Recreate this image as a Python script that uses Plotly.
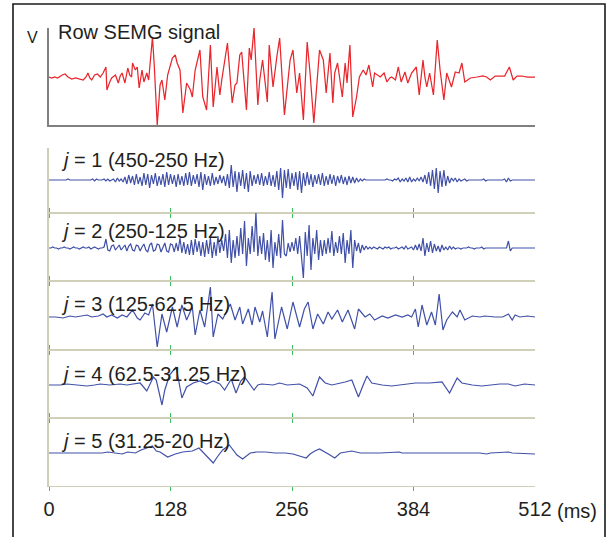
import plotly.graph_objects as go

# ---------------- data ----------------
# Raw SEMG signal: time (ms) and amplitude (arbitrary units, baseline 0)
raw_t = [0, 3, 6, 9, 14, 17, 20, 24, 28, 33, 36, 39, 41, 43, 45, 48, 51, 54, 57, 60,
         61, 64, 66, 70, 73, 75, 77, 80, 83, 85, 87, 88, 91, 93, 95, 98, 100, 103, 105, 109,
         111, 114, 117, 119, 122, 125, 130, 133, 135, 138, 141, 145, 149, 151, 154, 159, 162, 166, 170, 173,
         177, 180, 182, 188, 193, 196, 198, 201, 203, 208, 211, 213, 216, 220, 222, 225, 230, 232, 236, 240,
         243, 248, 252, 254, 257, 261, 264, 268, 272, 275, 279, 283, 285, 289, 292, 296, 299, 301, 304, 309,
         312, 314, 317, 320, 324, 327, 331, 334, 337, 341, 343, 349, 353, 356, 359, 361, 365, 368, 371, 375,
         378, 382, 387, 390, 394, 396, 398, 401, 405, 409, 412, 416, 419, 424, 428, 432, 435, 438, 444, 451,
         457, 461, 465, 470, 475, 480, 485, 489, 493, 498, 504, 512]
raw_v = [0, -1, 0, -1, 2, 3, 0, -2, -1, -2, -3, 0, 4, -1, -3, 2, 3, 0, 4, 10,
         -13, -5, -1, 2, -6, 1, 4, -6, 9, 2, 0, 14, 7, 10, -11, 7, -5, 4, -3, 40,
         10, -48, -8, -3, -23, 2, 19, 22, 14, 7, -36, -6, -13, -20, 7, 27, -20, -33, 32, -30,
         10, -18, -3, 34, -26, -8, -6, 22, 25, -33, 29, 17, 49, -28, -3, 17, -25, 32, -10, 20,
         39, -38, 0, 17, 27, -16, 4, -43, 35, 4, -46, 7, 27, 17, -16, 24, -26, 4, 14, -20,
         14, -6, 32, -40, -20, 0, 7, 2, 12, -10, 4, 0, 4, -5, -1, 0, -3, 10, -5, 5,
         -6, 4, 10, -18, 17, 0, -10, 4, -18, 37, 7, -23, 4, -10, 5, 4, 14, -5, -1, 0,
         1, 0, -3, 1, 1, 1, 10, -3, 1, 1, 0, 0]

# Wavelet details, sampled every 2 ms (j = 1, j = 2)
SAMPLE_MS = 2
j1_v = [0, 0, 0, 0, 0, 0, 0, 0, 0, 0,
        1, 0, 0, 0, 0, 0, 0, 0, 0, 0,
        0, 0, 0, 1, -1, 1, 0, 0, 0, 1,
        -1, 1, -1, 0, 1, -2, 2, -1, 1, -2,
        3, -4, 5, -3, 4, -5, 6, -4, 3, -6,
        7, -5, 6, -8, 5, -4, 7, -6, 4, -5,
        6, -7, 8, -5, 6, -4, 5, -7, 6, -5,
        4, -6, 7, -5, 8, -6, 5, -4, 6, -7,
        8, -10, 6, -5, 4, -6, 7, -5, 3, -4,
        5, -3, 4, -6, 6, -8, 15, -7, 9, -12,
        8, -6, 10, -9, 7, -12, 9, -6, 5, -4,
        6, -5, 7, -6, 4, -5, 8, -6, 5, -7,
        9, -10, 12, -18, 10, -8, 11, -9, 7, -6,
        8, -10, 9, -13, 7, -6, 8, -5, 6, -7,
        5, -4, 6, -5, 7, -6, 4, -5, 6, -4,
        5, -6, 4, -3, 5, -4, 3, -5, 4, -3,
        3, -3, 2, -2, 1, -1, 1, 0, 0, 0,
        0, 0, 0, 0, 0, 0, 0, 0, 1, 0,
        0, -1, 1, 0, 2, -2, 1, -1, 2, -2,
        3, -2, 1, -1, 2, -1, 3, -2, 5, -4,
        8, -6, 10, -9, 12, -13, 9, -7, 10, -6,
        4, -3, 2, -1, 2, -2, 1, -1, 0, 1,
        -1, 0, 0, 0, 0, 0, 0, 0, 0, 1,
        -1, 0, 0, 0, 0, 0, 0, 0, 0, 0,
        1, -2, 2, -1, 0, 0, 0, 0, 0, 0,
        0, 0, 0, 0, 0, 0, 0]
j2_v = [0, 0, 1, 0, 0, -1, 0, 0, 1, 0,
        0, -1, 0, 1, 0, 0, -1, 0, 1, 0,
        0, 1, -1, 0, 1, 0, -1, 0, 0, 1,
        9, -2, -3, 2, 3, -2, 1, 3, -2, 0,
        3, -3, 2, 4, -2, -3, 3, 2, -3, 1,
        4, -2, -4, 3, 5, -3, -2, 4, 3, -4,
        0, 5, -3, -4, 4, 3, -4, 5, -3, 10,
        -5, 6, -6, 4, -7, 8, -7, 9, -4, 7,
        -8, 6, -9, 8, -6, 10, -10, 6, -8, 12,
        -5, 8, -3, 14, -10, 18, -15, 8, -10, 12,
        -8, 20, -6, 27, -18, 10, -6, 22, -4, 36,
        -8, 12, -6, 15, -12, 8, -14, 18, -20, 6,
        -8, 14, -10, 28, -6, -8, 5, -4, 6, -3,
        10, -6, 12, -10, -30, 16, -8, 23, -22, 10,
        -6, 18, -12, 8, -8, 8, -6, 10, -5, 17,
        -8, 6, -5, 12, -6, 15, -15, 8, -6, 18,
        -20, 8, -3, 5, -5, 3, -2, 2, -1, 1,
        -1, 1, 0, -1, 1, 0, -1, 1, 0, 1,
        -1, 0, 0, 1, -1, 0, 1, -1, 2, -1,
        0, 1, -2, 3, -2, 4, -3, 10, -8, 5,
        -4, 7, -5, 4, -3, 2, -4, 3, -2, 1,
        -2, 2, -1, 1, -1, 0, 0, -1, 0, 0,
        0, 1, 0, 0, -1, 0, 0, 0, 1, -1,
        0, 0, 0, 0, 0, 0, 0, 0, 0, 0,
        0, 0, 7, -3, 0, 0, 0, 0, 0, 0,
        0, 0, 0, 0, 0, 0, 0]

# j = 3 detail (time ms, amplitude)
j3_t = [0, 7, 15, 22, 28, 35, 40, 45, 52, 57, 61, 66, 72, 77, 82, 88, 93, 96, 101, 105,
        109, 114, 119, 124, 130, 135, 140, 145, 151, 154, 159, 164, 170, 173, 178, 183, 191, 196, 201, 204,
        210, 214, 217, 222, 225, 230, 235, 238, 245, 251, 257, 264, 269, 273, 278, 283, 289, 294, 298, 304,
        309, 315, 322, 326, 333, 338, 343, 351, 357, 365, 372, 378, 382, 386, 389, 393, 398, 403, 407, 411,
        415, 419, 425, 430, 433, 438, 446, 454, 459, 470, 478, 484, 488, 491, 496, 504, 512]
j3_v = [0, 0, -1, 1, 0, 1, 2, 0, 1, 3, 0, 2, -1, 2, 0, 7, -1, -3, 4, 2,
        13, -30, 3, -15, 10, -10, 12, -3, 10, -18, 7, -10, 30, -20, 3, -2, 13, -3, 10, -7,
        8, -8, 10, -5, 6, -20, 25, -22, 10, -12, 15, -10, 8, 15, -12, 3, -7, 5, -2, 7,
        -5, 7, -12, 8, 0, 3, -3, 1, -1, 2, 0, 2, 0, 8, -10, 12, -8, 5, -8, 23,
        -13, -3, 5, 0, 7, -3, 1, 0, 1, 0, 0, 3, -3, 2, 0, 1, 0]

# j = 4 detail
j4_t = [0, 12, 19, 27, 40, 48, 54, 64, 75, 82, 91, 96, 103, 106, 110, 113, 119, 122, 127, 134,
        140, 145, 152, 159, 166, 173, 180, 185, 192, 197, 202, 206, 216, 220, 224, 236, 243, 251, 259, 264,
        272, 278, 285, 291, 298, 304, 312, 319, 326, 331, 335, 340, 351, 361, 372, 386, 401, 414, 422, 430,
        435, 446, 456, 467, 475, 484, 491, 501, 512]
j4_v = [0, 0, 1, 0, -1, 0, 1, 0, 1, 0, 1, 2, -6, 0, 8, 5, -20, -5, 10, 18,
        -13, -2, 2, 4, 1, 4, 1, -5, 6, -8, 4, 8, -5, 0, 1, 0, 2, 0, 1, 1,
        -3, -11, 8, 2, 0, 1, 3, 5, -12, 0, 9, 2, 0, -1, 0, 2, 2, 3, -8, 7,
        2, 0, -1, 0, 1, 1, -1, 1, 0]

# j = 5 detail
j5_t = [0, 22, 43, 56, 62, 70, 77, 83, 91, 97, 109, 113, 117, 125, 133, 141, 151, 158, 165, 173,
        178, 183, 190, 194, 198, 204, 212, 219, 228, 238, 249, 257, 265, 271, 275, 280, 285, 291, 296, 301,
        307, 313, 319, 328, 338, 349, 369, 372, 391, 412, 433, 454, 461, 465, 484, 488, 512]
j5_v = [0, 0, 0, 0, 1, 0, -1, 1, 0, 3, 7, 2, 1, -4, -1, 1, 2, 5, -2, -10,
        -3, 3, 8, 3, -2, -6, 0, 1, 1, 0, 0, -1, -3, -5, -1, 2, 4, 1, -2, -5,
        0, 1, 2, 0, 0, 0, 1, 0, 0, 0, 0, 0, -1, 0, 1, 0, -1]

labels = ["<i>j</i> = 1 (450-250 Hz)", "<i>j</i> = 2 (250-125 Hz)", "<i>j</i> = 3 (125-62.5 Hz)",
          "<i>j</i> = 4 (62.5-31.25 Hz)", "<i>j</i> = 5 (31.25-20 Hz)"]
title_text = "Row SEMG signal"
y_unit = "V"
tick_vals = [0, 128, 256, 384, 512]
tick_text = ["0", "128", "256", "384", "512"]
x_unit = "(ms)"

j1_t = [SAMPLE_MS * i for i in range(len(j1_v))]
j2_t = [SAMPLE_MS * i for i in range(len(j2_v))]
details = [(j1_t, j1_v), (j2_t, j2_v), (j3_t, j3_v), (j4_t, j4_v), (j5_t, j5_v)]

# ---------------- layout / style ----------------
W, H = 611, 537
L, R, T, B = 49, 535, 28, 486          # plot area in pixels
FONT = "Liberation Sans, Arial, Helvetica, sans-serif"
TXT = "#231f20"
RED = "#e8262c"
BLUE = "#4050a8"
GREY = "#808080"
BEIGE = "#d0d0b8"
GREEN = "#3cc060"


def pxx(p):
    return (p - L) / (R - L)


def pxy(p):
    return (B - p) / (B - T)


top_box = (28, 125, 77)                 # top, bottom, baseline (px)
panels = [(148, 213, 180), (213, 281, 248), (281, 350, 317), (350, 418, 385), (418, 486, 453)]
label_y = [160, 231, 304, 374, 441]

fig = go.Figure()
fig.add_trace(go.Scatter(x=raw_t, y=raw_v, mode="lines", line=dict(color=RED, width=1.25),
                         xaxis="x", yaxis="y", hoverinfo="skip"))
for k, (t, v) in enumerate(details):
    fig.add_trace(go.Scatter(x=t, y=v, mode="lines", line=dict(color=BLUE, width=1.2),
                             xaxis=f"x{k + 2}", yaxis=f"y{k + 2}", hoverinfo="skip"))
# carrier for the tick-label axis
fig.add_trace(go.Scatter(x=[0, 512], y=[None, None], mode="lines", xaxis="x7", yaxis="y6",
                         hoverinfo="skip"))

lay = dict(
    width=W, height=H, margin=dict(l=L, r=W - R, t=T, b=H - B, pad=0),
    paper_bgcolor="white", plot_bgcolor="rgba(0,0,0,0)", showlegend=False,
    font=dict(family=FONT, color=TXT, size=20),
)
tt, tb, tbase = top_box
lay["xaxis"] = dict(domain=[0, 1], range=[0, 512], anchor="y", showline=True, linecolor=GREY,
                    linewidth=1.5, ticks="", showticklabels=False, showgrid=False, zeroline=False)
lay["yaxis"] = dict(domain=[pxy(tb), pxy(tt)], range=[-(tb - tbase), tbase - tt], anchor="x",
                    showline=True, linecolor=GREY, linewidth=1.5, ticks="", showticklabels=False,
                    showgrid=False, zeroline=False)
for k, (pt, pb, base) in enumerate(panels):
    n = k + 2
    lay[f"yaxis{n}"] = dict(domain=[pxy(pb), pxy(pt)], range=[-(pb - base), base - pt],
                            anchor=f"x{n}", showline=True, linecolor=BEIGE, linewidth=1.5,
                            ticks="", showticklabels=False, showgrid=False, zeroline=False)
    lay[f"xaxis{n}"] = dict(domain=[0, 1], range=[0, 512], anchor=f"y{n}", showline=True,
                            linecolor=BEIGE, linewidth=(1.2 if k == 4 else 0.7),
                            ticks="outside", ticklen=4,
                            tickwidth=1.3, tickcolor=GREEN, tickvals=tick_vals[:-1],
                            showticklabels=False, mirror=("ticks" if k > 0 else False),
                            showgrid=False, zeroline=False)
lay["xaxis7"] = dict(overlaying="x6", anchor="y6", side="bottom", range=[0, 512],
                     tickvals=tick_vals, ticktext=tick_text, ticks="", showline=False,
                     showgrid=False, zeroline=False, tickfont=dict(size=20, color=TXT),
                     ticklabelstandoff=9)

ann = [
    dict(text=title_text, x=pxx(56), y=pxy(32), xanchor="left", yanchor="middle",
         font=dict(size=20)),
    dict(text=y_unit, x=pxx(32), y=pxy(37), xanchor="center", yanchor="middle",
         font=dict(size=16)),
    dict(text=x_unit, x=pxx(555), y=pxy(511), xanchor="left", yanchor="middle",
         font=dict(size=20)),
]
for lab, ly in zip(labels, label_y):
    ann.append(dict(text=lab, x=pxx(59), y=pxy(ly), xanchor="left", yanchor="middle",
                    font=dict(size=20)))
for a in ann:
    a.update(xref="paper", yref="paper", showarrow=False)
lay["annotations"] = ann
lay["shapes"] = [dict(type="rect", xref="paper", yref="paper", x0=pxx(13), x1=pxx(605),
                      y0=pxy(4), y1=pxy(570), line=dict(color="#1a1a1a", width=1.6),
                      fillcolor="rgba(0,0,0,0)", layer="above")]
fig.update_layout(**lay)

fig.write_html("out.html", config={"displayModeBar": False},
               post_script="document.body.style.margin='0px';")
